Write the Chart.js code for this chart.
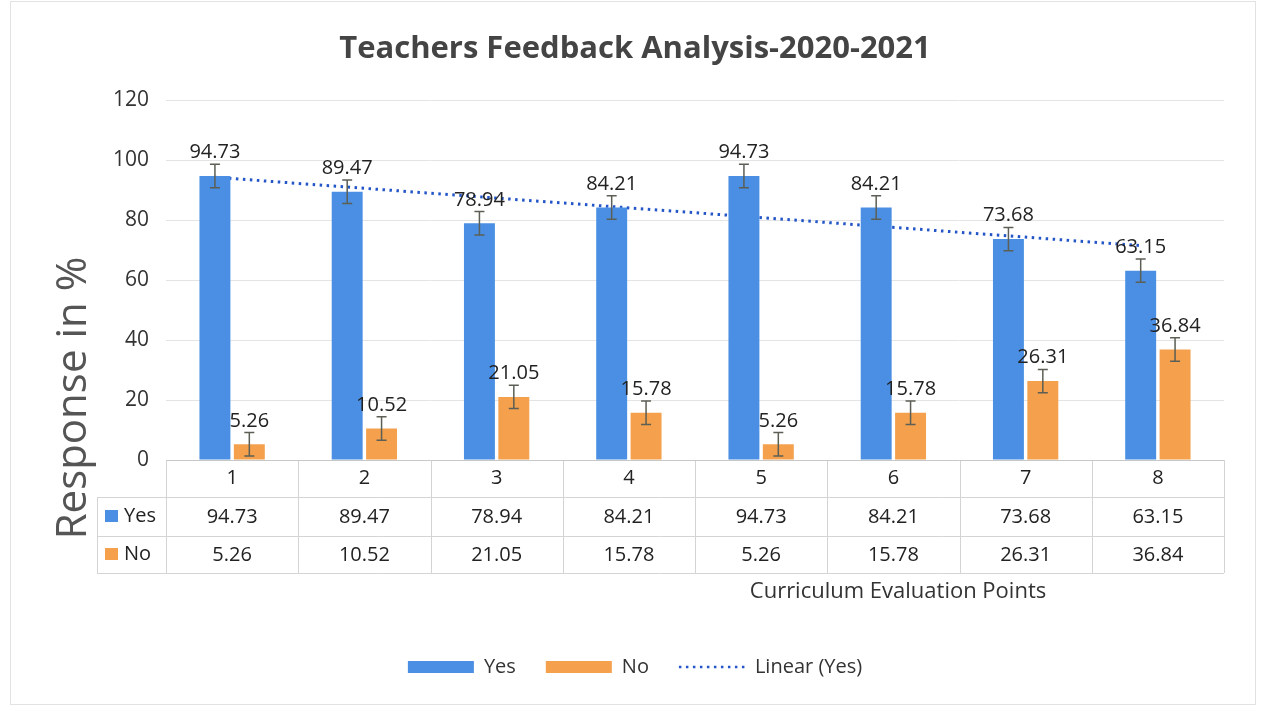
<!DOCTYPE html>
<html>
<head>
<meta charset="utf-8">
<script src="https://cdn.jsdelivr.net/npm/chart.js@4.4.1/dist/chart.umd.min.js"></script>
<style>
  html, body { margin: 0; padding: 0; background: #fff; }
  #wrap { position: relative; width: 1261px; height: 708px; }
</style>
</head>
<body>
<div id="wrap"><canvas id="feedbackChart" width="1261" height="708"></canvas></div>
<script>
const points = ['1', '2', '3', '4', '5', '6', '7', '8'];
const yesValues = [94.73, 89.47, 78.94, 84.21, 94.73, 84.21, 73.68, 63.15];
const noValues = [5.26, 10.52, 21.05, 15.78, 5.26, 15.78, 26.31, 36.84];
const errorAmount = 3.9;

const font = '"Open Sans", "Noto Sans", sans-serif';
const blue = '#4a8fe3';
const orange = '#f4a04c';
const trendBlue = '#2456c8';

// bars sit on a numeric x axis: point n is at x = n
const toXY = values => values.map((v, i) => ({ x: i + 1, y: v }));

// least squares trendline of the Yes series, like Excel's "Linear (Yes)"
function linearTrend(values) {
  const n = values.length;
  const xs = values.map((v, i) => i + 1);
  const mx = xs.reduce((a, b) => a + b, 0) / n;
  const my = values.reduce((a, b) => a + b, 0) / n;
  let sxy = 0, sxx = 0;
  xs.forEach((x, i) => { sxy += (x - mx) * (values[i] - my); sxx += (x - mx) * (x - mx); });
  const slope = sxy / sxx;
  // shifted so it runs through the centres of the Yes bars
  return xs.map(x => ({ x: x - 0.13, y: my + slope * (x - mx) }));
}

const extras = {
  id: 'extras',
  beforeDraw(chart) {
    const ctx = chart.ctx;
    ctx.save();
    ctx.strokeStyle = '#e2e2e2';
    ctx.lineWidth = 1;
    ctx.strokeRect(10.5, 1.5, 1245, 703);
    ctx.restore();
  },
  afterDatasetsDraw(chart) {
    const ctx = chart.ctx;
    const y = chart.scales.y;
    ctx.save();
    [0, 1].forEach(di => {
      const meta = chart.getDatasetMeta(di);
      const vals = di === 0 ? yesValues : noValues;
      meta.data.forEach((bar, i) => {
        const v = vals[i];
        const top = y.getPixelForValue(v + errorAmount);
        const bot = y.getPixelForValue(v - errorAmount);
        ctx.strokeStyle = '#5b5f55';
        ctx.lineWidth = 1.5;
        ctx.beginPath();
        ctx.moveTo(bar.x, top); ctx.lineTo(bar.x, bot);
        ctx.moveTo(bar.x - 5, top); ctx.lineTo(bar.x + 5, top);
        ctx.moveTo(bar.x - 5, bot); ctx.lineTo(bar.x + 5, bot);
        ctx.stroke();
        ctx.fillStyle = '#222';
        ctx.font = '20px ' + font;
        ctx.textAlign = 'center';
        ctx.textBaseline = 'alphabetic';
        ctx.fillText(v.toFixed(2), bar.x, top - 6);
      });
    });
    ctx.restore();
  },
  afterDraw(chart) {
    const ctx = chart.ctx;
    const x = chart.scales.x;
    const area = chart.chartArea;
    const rows = [area.bottom + 37, area.bottom + 76, area.bottom + 113];
    const tableLeft = 97;
    ctx.save();
    ctx.strokeStyle = '#d4d4d4';
    ctx.lineWidth = 1;
    ctx.beginPath();
    rows.forEach(r => { ctx.moveTo(tableLeft, r + 0.5); ctx.lineTo(area.right, r + 0.5); });
    ctx.moveTo(tableLeft + 0.5, rows[0]); ctx.lineTo(tableLeft + 0.5, rows[2]);
    for (let i = 0; i <= points.length; i++) {
      const px = Math.round(x.getPixelForValue(i + 0.5)) + 0.5;
      ctx.moveTo(px, area.bottom); ctx.lineTo(px, rows[2]);
    }
    ctx.stroke();
    ctx.strokeStyle = '#c8c8c8';
    ctx.beginPath();
    ctx.moveTo(area.left, area.bottom + 0.5); ctx.lineTo(area.right, area.bottom + 0.5);
    ctx.stroke();

    ctx.fillStyle = '#222';
    ctx.font = '20px ' + font;
    ctx.textAlign = 'center';
    ctx.textBaseline = 'middle';
    points.forEach((p, i) => {
      const cx = x.getPixelForValue(i + 1);
      ctx.fillText(p, cx, area.bottom + 18);
      ctx.fillText(yesValues[i].toFixed(2), cx, rows[0] + 20);
      ctx.fillText(noValues[i].toFixed(2), cx, rows[1] + 19);
    });
    ctx.textAlign = 'left';
    ctx.fillStyle = blue;
    ctx.fillRect(105, rows[0] + 13, 13, 12);
    ctx.fillStyle = orange;
    ctx.fillRect(105, rows[1] + 12, 13, 12);
    ctx.fillStyle = '#222';
    ctx.fillText('Yes', 124, rows[0] + 19);
    ctx.fillText('No', 124, rows[1] + 18);

    ctx.textAlign = 'center';
    ctx.fillStyle = '#333';
    ctx.font = '22px ' + font;
    ctx.fillText('Curriculum Evaluation Points', 898, rows[2] + 19);
    ctx.save();
    ctx.translate(74, 398);
    ctx.rotate(-Math.PI / 2);
    ctx.font = '42px ' + font;
    ctx.fillStyle = '#555';
    ctx.fillText('Response in %', 0, 0);
    ctx.restore();
    ctx.restore();
  }
};

new Chart(document.getElementById('feedbackChart'), {
  type: 'bar',
  data: {
    datasets: [{
      label: 'Yes',
      data: toXY(yesValues),
      backgroundColor: blue,
      borderColor: blue,
      categoryPercentage: 0.52,
      barPercentage: 0.9
    }, {
      label: 'No',
      data: toXY(noValues),
      backgroundColor: orange,
      borderColor: orange,
      categoryPercentage: 0.52,
      barPercentage: 0.9
    }, {
      type: 'line',
      label: 'Linear (Yes)',
      data: linearTrend(yesValues),
      borderColor: trendBlue,
      borderWidth: 3,
      borderDash: [2.5, 4.5],
      pointRadius: 0,
      fill: false
    }]
  },
  options: {
    responsive: false,
    animation: false,
    layout: { padding: { left: 46, right: 37, top: 0, bottom: 21 } },
    plugins: {
      title: {
        display: true,
        text: 'Teachers Feedback Analysis-2020-2021',
        color: '#444',
        font: { family: font, size: 31, weight: 'bold' },
        padding: { top: 31, bottom: 32 }
      },
      legend: {
        position: 'bottom',
        labels: {
          font: { family: font, size: 20 },
          color: '#333',
          usePointStyle: true,
          pointStyleWidth: 66,
          boxHeight: 12,
          padding: 30,
          generateLabels: chart => chart.data.datasets.map((ds, i) => {
            const isLine = ds.type === 'line';
            return {
              text: ds.label,
              datasetIndex: i,
              fillStyle: isLine ? 'rgba(0,0,0,0)' : ds.backgroundColor,
              strokeStyle: ds.borderColor,
              lineWidth: isLine ? 2.5 : 0,
              lineDash: isLine ? [2.5, 4.5] : [],
              pointStyle: isLine ? 'line' : 'rect',
              fontColor: '#333'
            };
          })
        }
      },
      tooltip: { enabled: false }
    },
    scales: {
      x: {
        type: 'linear',
        offset: false,
        min: 0.5,
        max: 8.5,
        grid: { display: false },
        border: { display: false },
        ticks: { display: false },
        afterBuildTicks: scale => { scale.ticks = points.map((p, i) => ({ value: i + 1 })); },
        afterFit: scale => { scale.height = 167; }
      },
      y: {
        min: 0,
        max: 120,
        ticks: {
          stepSize: 20,
          padding: 17,
          color: '#333',
          font: { family: font, size: 21 }
        },
        grid: { color: '#e4e4e4', drawTicks: false },
        border: { display: false },
        afterFit: scale => { scale.width = 120; }
      }
    }
  },
  plugins: [extras]
});
</script>
</body>
</html>
